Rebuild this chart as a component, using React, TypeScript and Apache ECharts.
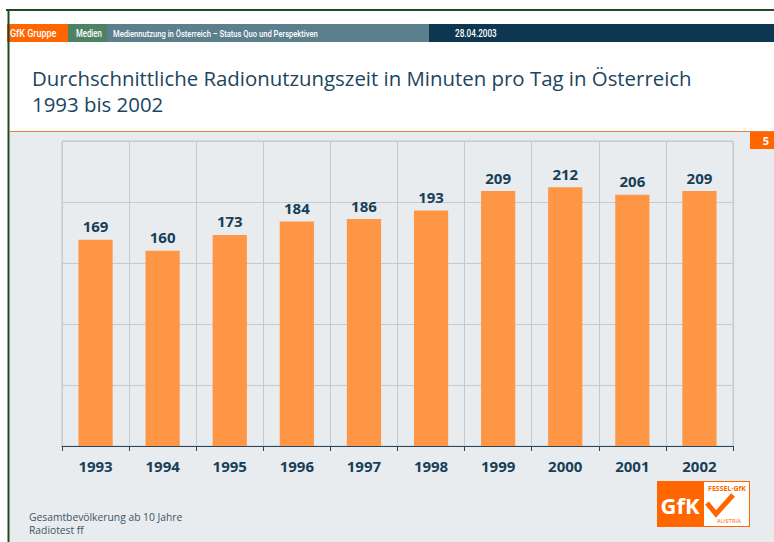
import React, { useEffect, useRef } from "react";
import * as echarts from "echarts";

const years = ["1993", "1994", "1995", "1996", "1997", "1998", "1999", "2000", "2001", "2002"];
const minutes = [169, 160, 173, 184, 186, 193, 209, 212, 206, 209];
const yMax = 250;
const yInterval = 50;

const titleLines = [
  "Durchschnittliche Radionutzungszeit in Minuten pro Tag in Österreich",
  "1993 bis 2002",
];
const footnotes = ["Gesamtbevölkerung ab 10 Jahre", "Radiotest ff"];
const headerTexts = ["GfK Gruppe", "Medien", "Mediennutzung in Österreich – Status Quo und Perspektiven", "28.04.2003"];

const FONT = "'Open Sans', 'DejaVu Sans', sans-serif";
const NARROW = "Roboto, sans-serif";
const NAVY = "#173f58";
const ORANGE = "#ff6600";

export default function App() {
  const ref = useRef<HTMLDivElement>(null);
  useEffect(() => {
    if (!ref.current) return;
    const chart = echarts.init(ref.current, null, { renderer: "svg" });
    chart.setOption({
      animation: false,
      backgroundColor: "#ffffff",
      grid: {
        left: 62,
        top: 141,
        right: 41,
        bottom: 96,
        show: true,
        borderColor: "#c6cacc",
        borderWidth: 1,
        backgroundColor: "transparent",
      },
      xAxis: {
        type: "category",
        data: years,
        boundaryGap: true,
        axisLine: { show: true, lineStyle: { color: "#2a4658", width: 1 } },
        axisTick: { show: true, interval: 0, length: 5, lineStyle: { color: "#2a4658" } },
        axisLabel: {
          interval: 0,
          margin: 12,
          color: NAVY,
          fontFamily: FONT,
          fontWeight: "bold",
          fontSize: 15,
        },
        splitLine: { show: true, interval: 0, lineStyle: { color: "#c6cacc", width: 1 } },
      },
      yAxis: {
        type: "value",
        min: 0,
        max: yMax,
        interval: yInterval,
        axisLine: { show: false },
        axisTick: { show: false },
        axisLabel: { show: false },
        splitLine: { show: true, lineStyle: { color: "#c6cacc", width: 1 } },
      },
      series: [
        {
          type: "bar",
          data: minutes,
          barWidth: "51%",
          itemStyle: { color: "#ff9645" },
          label: {
            show: true,
            position: "top",
            distance: 6,
            color: NAVY,
            fontFamily: FONT,
            fontWeight: "bold",
            fontSize: 15,
          },
        },
      ],
      graphic: [
        // grey page background below title
        { type: "rect", z: -10, silent: true, shape: { x: 9, y: 131, width: 765, height: 411 }, style: { fill: "#e9ecee" } },
        // frame
        { type: "line", z: 10, shape: { x1: 6, y1: 10, x2: 774, y2: 10 }, style: { stroke: "#1f4a26", lineWidth: 2 } },
        { type: "line", z: 10, shape: { x1: 8.5, y1: 10, x2: 8.5, y2: 542 }, style: { stroke: "#1f4a26", lineWidth: 2 } },
        // orange divider
        { type: "line", z: 10, shape: { x1: 9, y1: 131.5, x2: 774, y2: 131.5 }, style: { stroke: "#f07a3c", lineWidth: 1 } },
        // header bar
        { type: "rect", shape: { x: 7, y: 24, width: 61, height: 18 }, style: { fill: ORANGE } },
        { type: "rect", shape: { x: 68, y: 24, width: 39, height: 18 }, style: { fill: "#4d8262" } },
        { type: "rect", shape: { x: 107, y: 24, width: 322, height: 18 }, style: { fill: "#5b7f8d" } },
        { type: "rect", shape: { x: 429, y: 24, width: 345, height: 18 }, style: { fill: "#0d3650" } },
        { type: "text", z: 5, x: 10, y: 33.5, scaleX: 0.9, style: { text: headerTexts[0], fill: "#fff", font: `500 10px ${NARROW}`, textVerticalAlign: "middle" } },
        { type: "text", z: 5, x: 76, y: 33.5, scaleX: 0.78, style: { text: headerTexts[1], fill: "#fff", font: `500 10px ${NARROW}`, textVerticalAlign: "middle" } },
        { type: "text", z: 5, x: 113, y: 33.5, scaleX: 0.8, style: { text: headerTexts[2], fill: "#fff", font: `500 9.5px ${NARROW}`, textVerticalAlign: "middle" } },
        { type: "text", z: 5, x: 455, y: 33.5, scaleX: 0.82, style: { text: headerTexts[3], fill: "#fff", font: `500 10px ${NARROW}`, textVerticalAlign: "middle" } },
        // title
        { type: "text", x: 32, y: 78, style: { text: titleLines[0], fill: "#1b4560", font: `20.4px ${FONT}`, textVerticalAlign: "middle" } },
        { type: "text", x: 32, y: 104, style: { text: titleLines[1], fill: "#1b4560", font: `20.4px ${FONT}`, textVerticalAlign: "middle" } },
        // page number
        { type: "rect", shape: { x: 750, y: 132, width: 24, height: 17 }, style: { fill: ORANGE } },
        { type: "text", x: 766, y: 140, style: { text: "5", fill: "#fff", font: `bold 11px ${FONT}`, textAlign: "center", textVerticalAlign: "middle" } },
        // footnotes
        { type: "text", x: 29, y: 517, style: { text: footnotes[0], fill: "#3a5668", font: `10.3px ${FONT}`, textVerticalAlign: "middle" } },
        { type: "text", x: 29, y: 530, style: { text: footnotes[1], fill: "#3a5668", font: `10.3px ${FONT}`, textVerticalAlign: "middle" } },
        // logo
        { type: "rect", shape: { x: 657, y: 481, width: 93, height: 46 }, style: { fill: ORANGE } },
        { type: "rect", shape: { x: 704, y: 482, width: 45, height: 44 }, style: { fill: "#ffffff" } },
        { type: "text", x: 680, y: 505, style: { text: "GfK", fill: "#fff", font: `bold 22px ${FONT}`, textAlign: "center", textVerticalAlign: "middle" } },
        { type: "text", x: 727, y: 488, style: { text: "FESSEL·GfK", fill: ORANGE, font: `bold 7px ${FONT}`, textAlign: "center", textVerticalAlign: "middle" } },
        { type: "text", x: 729, y: 521, style: { text: "AUSTRIA", fill: ORANGE, font: `6px ${FONT}`, textAlign: "center", textVerticalAlign: "middle" } },
        { type: "polyline", shape: { points: [[707, 503], [716, 514], [733, 495]] }, style: { stroke: ORANGE, lineWidth: 5, fill: "none" } },
      ],
    });
    return () => chart.dispose();
  }, []);
  return <div ref={ref} style={{ position: "fixed", left: 0, top: 0, width: 774, height: 542 }} />;
}
